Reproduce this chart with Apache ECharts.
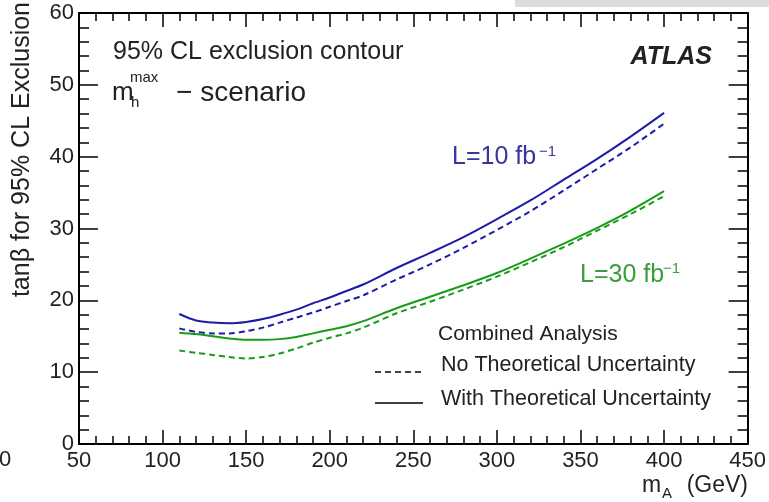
<!DOCTYPE html>
<html>
<head>
<meta charset="utf-8">
<script src="https://cdn.jsdelivr.net/npm/echarts@6/dist/echarts.min.js"></script>
<style>html,body{margin:0;padding:0;background:#fff;}#c{width:769px;height:502px;}</style>
</head>
<body>
<div id="c"></div>
<script>
// ---- data ----
const mA = [110,120,130,140,150,160,170,180,190,200,210,220,240,260,280,300,320,340,360,380,400];
const l10WithTheory = [18.1,17.2,16.9,16.8,17.0,17.4,18.0,18.7,19.6,20.4,21.3,22.2,24.5,26.6,28.8,31.3,33.9,36.8,39.7,42.8,46.1];
const l10NoTheory   = [16.1,15.6,15.4,15.4,15.7,16.2,16.9,17.6,18.3,19.1,19.9,20.7,22.9,25.0,27.3,29.8,32.4,35.3,38.3,41.3,44.6];
const l30WithTheory = [15.5,15.3,15.0,14.7,14.5,14.5,14.6,14.9,15.4,15.9,16.4,17.1,18.9,20.5,22.1,23.8,25.8,27.9,30.1,32.5,35.2];
const l30NoTheory   = [13.0,12.7,12.4,12.1,11.9,12.1,12.6,13.3,14.1,14.8,15.4,16.2,18.2,19.8,21.5,23.3,25.3,27.4,29.7,32.0,34.5];
const xTicks = {min:50, max:450, step:50};
const yTicks = {min:0, max:60, step:10};

const FONT = 'Liberation Sans, Arial, sans-serif';
const BLUE = '#1c1ca8', GREEN = '#189c18';
const BLUE_T = '#36369e', GREEN_T = '#3a9e3a';

function pairs(ys){ return mA.map((x,i)=>[x, ys[i]]); }

function xAx(pos, labels){
  return {type:'value', position:pos, min:xTicks.min, max:xTicks.max, interval:xTicks.step,
    axisLine:{show:true, onZero:false, lineStyle:{color:'#000', width:2}},
    axisTick:{show:true, inside:true, length:14, lineStyle:{color:'#000', width:1.5}},
    minorTick:{show:true, splitNumber:5, length:8, lineStyle:{color:'#000', width:1.5}},
    axisLabel:{show:labels, fontSize:22, color:'#222', margin:6, fontFamily:FONT},
    splitLine:{show:false}, minorSplitLine:{show:false}};
}
function yAx(pos, labels){
  return {type:'value', position:pos, min:yTicks.min, max:yTicks.max, interval:yTicks.step,
    axisLine:{show:true, onZero:false, lineStyle:{color:'#000', width:2}},
    axisTick:{show:true, inside:true, length:19, lineStyle:{color:'#000', width:1.5}},
    minorTick:{show:true, splitNumber:5, length:10, lineStyle:{color:'#000', width:1.5}},
    axisLabel:{show:labels, fontSize:22, color:'#222', margin:5, fontFamily:FONT},
    splitLine:{show:false}, minorSplitLine:{show:false}};
}
function line(name, ys, color, dashed){
  return {name:name, type:'line', xAxisIndex:0, yAxisIndex:0, data:pairs(ys), showSymbol:false, smooth:0.3,
    lineStyle:{color:color, width:2, type: dashed ? [6,4] : 'solid'}, silent:true, animation:false};
}
function txt(x, y, s, size, color, opts){
  return Object.assign({type:'text', silent:true, style:Object.assign({x:x, y:y, text:s, fill:color,
    font: (opts && opts.font) ? opts.font : (size + 'px ' + FONT), textAlign:'left', textVerticalAlign:'middle'}, (opts && opts.style)||{})}, (opts && opts.el)||{});
}

const chart = echarts.init(document.getElementById('c'), null, {renderer:'canvas'});
chart.setOption({
  animation:false,
  backgroundColor:'#fff',
  grid:{left:79, right:21, top:13, bottom:58, containLabel:false},
  xAxis:[xAx('bottom', true), xAx('top', false)],
  yAxis:[yAx('left', true), yAx('right', false)],
  series:[
    line('L=10 with', l10WithTheory, BLUE, false),
    line('L=10 no', l10NoTheory, BLUE, true),
    line('L=30 with', l30WithTheory, GREEN, false),
    line('L=30 no', l30NoTheory, GREEN, true)
  ],
  graphic:[
    {type:'rect', silent:true, shape:{x:515, y:0, width:254, height:7}, style:{fill:'#dcdcdc'}},
    txt(-1, 460, '0', 22, '#222'),
    // y-axis title
    {type:'text', silent:true, x:22, y:2, rotation:Math.PI/2,
      style:{x:0, y:0, text:'tanβ for 95% CL Exclusion', font:'25px ' + FONT, fill:'#222', textAlign:'right', textVerticalAlign:'middle'}},
    // x-axis title
    txt(642, 486, 'm', 23, '#222'),
    txt(662, 494, 'A', 15, '#222'),
    txt(748, 486, '(GeV)', 23, '#222', {style:{textAlign:'right'}}),
    // annotations
    txt(113, 52, '95% CL exclusion contour', 25, '#222'),
    txt(112, 93, 'm', 26, '#222'),
    txt(130, 78, 'max', 15, '#222'),
    txt(131, 103, 'h', 15, '#222'),
    txt(176, 93, '− scenario', 28, '#222'),
    txt(712, 57, 'ATLAS', 25, '#222', {font:'italic bold 25px ' + FONT, style:{textAlign:'right'}}),
    txt(452, 157, 'L=10 fb', 25, BLUE_T),
    txt(539, 152, '−1', 15, BLUE_T),
    txt(580, 275, 'L=30 fb', 25, GREEN_T),
    txt(663, 269, '−1', 15, GREEN_T),
    // legend
    txt(438, 334, 'Combined Analysis', 21, '#222'),
    {type:'line', silent:true, shape:{x1:375, y1:372, x2:423, y2:372}, style:{stroke:'#000', lineWidth:1.5, lineDash:[6,4]}},
    txt(441, 365, 'No Theoretical Uncertainty', 21.5, '#222'),
    {type:'line', silent:true, shape:{x1:375, y1:403, x2:423, y2:403}, style:{stroke:'#000', lineWidth:1.5}},
    txt(441, 399, 'With Theoretical Uncertainty', 21.5, '#222')
  ]
});
</script>
</body>
</html>
